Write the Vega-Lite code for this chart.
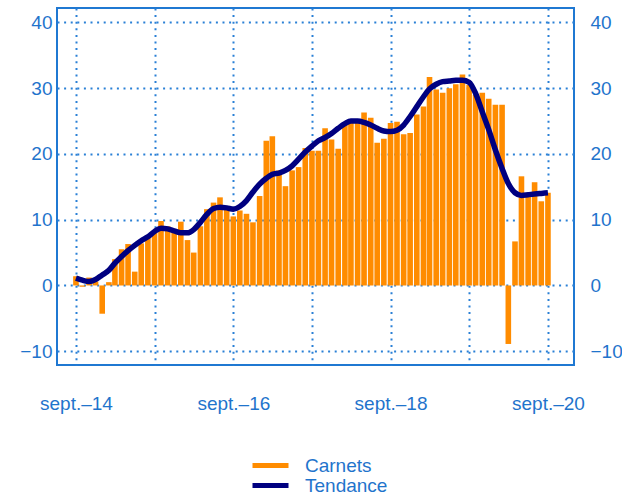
{
  "$schema": "https://vega.github.io/schema/vega-lite/v6.json",
  "width": 517,
  "height": 357,
  "autosize": "none",
  "padding": {"left": 57, "top": 8, "right": 48, "bottom": 128},
  "background": "white",
  "config": {
    "font": "Liberation Sans",
    "view": {"stroke": "#1f78d2", "strokeWidth": 2},
    "axis": {
      "labelFont": "Liberation Sans",
      "labelFontSize": 19,
      "labelColor": "#1f74cc",
      "ticks": false,
      "domain": false,
      "title": null,
      "gridColor": "#2a80d6",
      "gridWidth": 2,
      "gridDash": [2, 4.6]
    }
  },
  "data": {
    "values": [
      {"date": "2014-09-01", "carnets": 1.4, "tendance": 1.1},
      {"date": "2014-10-01", "carnets": -0.2, "tendance": 0.8},
      {"date": "2014-11-01", "carnets": 1.2, "tendance": 0.6},
      {"date": "2014-12-01", "carnets": 0.6, "tendance": 0.9},
      {"date": "2015-01-01", "carnets": -4.3, "tendance": 1.6},
      {"date": "2015-02-01", "carnets": 0.5, "tendance": 2.3},
      {"date": "2015-03-01", "carnets": 4.0, "tendance": 3.4},
      {"date": "2015-04-01", "carnets": 5.5, "tendance": 4.4},
      {"date": "2015-05-01", "carnets": 6.3, "tendance": 5.3},
      {"date": "2015-06-01", "carnets": 2.1, "tendance": 6.1},
      {"date": "2015-07-01", "carnets": 6.4, "tendance": 6.8},
      {"date": "2015-08-01", "carnets": 7.3, "tendance": 7.4},
      {"date": "2015-09-01", "carnets": 8.3, "tendance": 8.2},
      {"date": "2015-10-01", "carnets": 9.8, "tendance": 8.7},
      {"date": "2015-11-01", "carnets": 9.0, "tendance": 8.6},
      {"date": "2015-12-01", "carnets": 8.3, "tendance": 8.3},
      {"date": "2016-01-01", "carnets": 9.7, "tendance": 8.0},
      {"date": "2016-02-01", "carnets": 6.9, "tendance": 8.0},
      {"date": "2016-03-01", "carnets": 5.0, "tendance": 8.5},
      {"date": "2016-04-01", "carnets": 9.0, "tendance": 9.6},
      {"date": "2016-05-01", "carnets": 11.6, "tendance": 10.8},
      {"date": "2016-06-01", "carnets": 12.6, "tendance": 11.7},
      {"date": "2016-07-01", "carnets": 13.4, "tendance": 11.9},
      {"date": "2016-08-01", "carnets": 11.6, "tendance": 11.8},
      {"date": "2016-09-01", "carnets": 10.5, "tendance": 11.6},
      {"date": "2016-10-01", "carnets": 11.4, "tendance": 12.0},
      {"date": "2016-11-01", "carnets": 10.9, "tendance": 12.9},
      {"date": "2016-12-01", "carnets": 9.6, "tendance": 14.2},
      {"date": "2017-01-01", "carnets": 13.6, "tendance": 15.4},
      {"date": "2017-02-01", "carnets": 22.0, "tendance": 16.3},
      {"date": "2017-03-01", "carnets": 22.7, "tendance": 16.9},
      {"date": "2017-04-01", "carnets": 17.5, "tendance": 17.1},
      {"date": "2017-05-01", "carnets": 15.1, "tendance": 17.5},
      {"date": "2017-06-01", "carnets": 17.5, "tendance": 18.2},
      {"date": "2017-07-01", "carnets": 18.0, "tendance": 19.2},
      {"date": "2017-08-01", "carnets": 20.9, "tendance": 20.3},
      {"date": "2017-09-01", "carnets": 20.5, "tendance": 21.2},
      {"date": "2017-10-01", "carnets": 20.5, "tendance": 22.0},
      {"date": "2017-11-01", "carnets": 23.9, "tendance": 22.5},
      {"date": "2017-12-01", "carnets": 22.2, "tendance": 23.1},
      {"date": "2018-01-01", "carnets": 20.8, "tendance": 23.9},
      {"date": "2018-02-01", "carnets": 24.5, "tendance": 24.6},
      {"date": "2018-03-01", "carnets": 24.8, "tendance": 25.0},
      {"date": "2018-04-01", "carnets": 25.1, "tendance": 25.0},
      {"date": "2018-05-01", "carnets": 26.3, "tendance": 24.8},
      {"date": "2018-06-01", "carnets": 25.5, "tendance": 24.4},
      {"date": "2018-07-01", "carnets": 21.7, "tendance": 23.9},
      {"date": "2018-08-01", "carnets": 22.3, "tendance": 23.5},
      {"date": "2018-09-01", "carnets": 24.7, "tendance": 23.4},
      {"date": "2018-10-01", "carnets": 24.9, "tendance": 23.6},
      {"date": "2018-11-01", "carnets": 23.0, "tendance": 24.4},
      {"date": "2018-12-01", "carnets": 23.2, "tendance": 25.7},
      {"date": "2019-01-01", "carnets": 26.0, "tendance": 27.2},
      {"date": "2019-02-01", "carnets": 27.2, "tendance": 28.7},
      {"date": "2019-03-01", "carnets": 31.7, "tendance": 29.9},
      {"date": "2019-04-01", "carnets": 29.8, "tendance": 30.6},
      {"date": "2019-05-01", "carnets": 29.3, "tendance": 31.0},
      {"date": "2019-06-01", "carnets": 30.0, "tendance": 31.1},
      {"date": "2019-07-01", "carnets": 30.6, "tendance": 31.2},
      {"date": "2019-08-01", "carnets": 32.1, "tendance": 31.2},
      {"date": "2019-09-01", "carnets": 30.5, "tendance": 30.9},
      {"date": "2019-10-01", "carnets": 29.0, "tendance": 29.2},
      {"date": "2019-11-01", "carnets": 29.3, "tendance": 26.4},
      {"date": "2019-12-01", "carnets": 28.4, "tendance": 23.7},
      {"date": "2020-01-01", "carnets": 27.5, "tendance": 20.6},
      {"date": "2020-02-01", "carnets": 27.5, "tendance": 17.8},
      {"date": "2020-03-01", "carnets": -8.9, "tendance": 15.5},
      {"date": "2020-04-01", "carnets": 6.7, "tendance": 14.1},
      {"date": "2020-05-01", "carnets": 16.6, "tendance": 13.7},
      {"date": "2020-06-01", "carnets": 13.5, "tendance": 13.8},
      {"date": "2020-07-01", "carnets": 15.7, "tendance": 13.9},
      {"date": "2020-08-01", "carnets": 12.8, "tendance": 14.0},
      {"date": "2020-09-01", "carnets": 14.1, "tendance": 14.1}
    ]
  },
  "layer": [
    {
      "mark": {"type": "bar", "width": 5.6},
      "encoding": {
        "x": {
          "field": "date",
          "type": "temporal",
          "scale": {
            "type": "utc",
            "padding": 0,
            "domain": [
              {"year": 2014, "month": 6, "date": 5, "utc": true},
              {"year": 2020, "month": 12, "date": 31, "utc": true}
            ]
          },
          "axis": {
            "values": [
              {"year": 2014, "month": 9, "date": 1, "utc": true},
              {"year": 2015, "month": 9, "date": 1, "utc": true},
              {"year": 2016, "month": 9, "date": 1, "utc": true},
              {"year": 2017, "month": 9, "date": 1, "utc": true},
              {"year": 2018, "month": 9, "date": 1, "utc": true},
              {"year": 2019, "month": 9, "date": 1, "utc": true},
              {"year": 2020, "month": 9, "date": 1, "utc": true}
            ],
            "labelExpr": "utcyear(datum.value) % 2 == 0 ? 'sept.–' + utcFormat(datum.value, '%y') : ''",
            "labelPadding": 29,
            "labelOverlap": false,
            "labelFlush": false,
            "labelBound": false,
            "grid": true
          }
        },
        "y": {
          "field": "carnets",
          "type": "quantitative",
          "scale": {"domain": [-12.1, 42.2], "nice": false, "zero": false},
          "axis": {
            "values": [-10, 0, 10, 20, 30, 40],
            "grid": true,
            "labelPadding": 5,
            "orient": "left"
          }
        },
        "color": {
          "datum": "Carnets",
          "type": "nominal",
          "scale": {"domain": ["Carnets", "Tendance"], "range": ["#ff8c00", "#000080"]},
          "legend": {
            "title": null,
            "orient": "none",
            "legendX": 204,
            "legendY": 448,
            "direction": "vertical",
            "symbolType": "M-3,0H3",
            "symbolSize": 144,
            "symbolStrokeWidth": 5,
            "labelFont": "Liberation Sans",
            "labelFontSize": 19,
            "labelColor": "#1f74cc",
            "labelOffset": 25,
            "rowPadding": -1,
            "encode": {
              "symbols": {
                "update": {
                  "stroke": {"scale": "color", "field": "value"},
                  "strokeWidth": {"value": 5}
                }
              }
            }
          }
        }
      }
    },
    {
      "mark": {"type": "line", "strokeWidth": 5.5, "interpolate": "monotone"},
      "encoding": {
        "x": {"field": "date", "type": "temporal"},
        "y": {
          "field": "tendance",
          "type": "quantitative",
          "axis": {
            "values": [-10, 0, 10, 20, 30, 40],
            "grid": false,
            "labelPadding": 16,
            "orient": "right"
          }
        },
        "color": {"datum": "Tendance", "type": "nominal"}
      }
    }
  ],
  "resolve": {"axis": {"y": "independent"}}
}
